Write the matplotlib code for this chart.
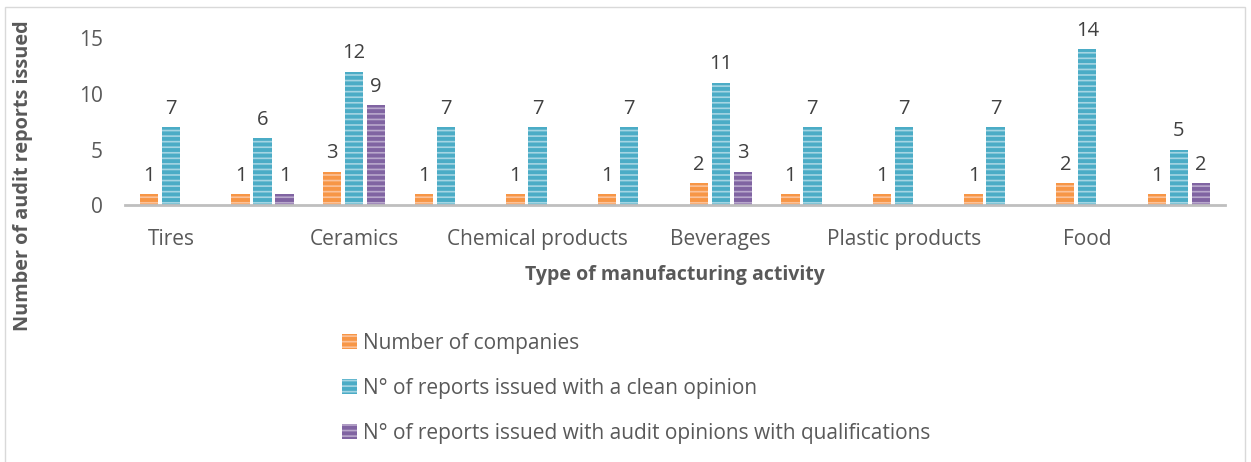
import matplotlib
matplotlib.use("Agg")
import matplotlib.pyplot as plt
from matplotlib.patches import Rectangle
import numpy as np

plt.rcParams["font.family"] = ["Open Sans", "DejaVu Sans"]
plt.rcParams["hatch.linewidth"] = 1.2

categories = ["Tires", "", "Ceramics", "", "Chemical products", "",
              "Beverages", "", "Plastic products", "", "Food", ""]
companies = [1, 1, 3, 1, 1, 1, 2, 1, 1, 1, 2, 1]
clean = [7, 6, 12, 7, 7, 7, 11, 7, 7, 7, 14, 5]
qualified = [0, 1, 9, 0, 0, 0, 3, 0, 0, 0, 0, 2]

series = [
    ("Number of companies", companies, "#F79646", "#FBC29A"),
    ("N° of reports issued with a clean opinion", clean, "#4BACC6", "#A5D5E3"),
    ("N° of reports issued with audit opinions with qualifications", qualified, "#8064A2", "#B9A8CC"),
]

fig = plt.figure(figsize=(12.51, 4.62), dpi=100)
ax = fig.add_axes([0.1, 0.556, 0.879, 0.361])

x = np.arange(len(categories))
w = 0.2
offs = [-0.24, 0, 0.24]
for (name, vals, col, light), off in zip(series, offs):
    bars = ax.bar(x + off, vals, w, color=col, edgecolor=light, hatch="---",
                  linewidth=0, label=name)
    for b, v in zip(bars, vals):
        if v == 0:
            continue
        ax.annotate(str(v), (b.get_x() + b.get_width() / 2, v),
                    xytext=(0, 6), textcoords="offset points",
                    ha="center", va="bottom", fontsize=14.5, color="#404040",
                    annotation_clip=False)

ax.set_xlim(-0.5, len(categories) - 0.5)
ax.set_ylim(0, 15)
ax.set_yticks([0, 5, 10, 15])
ax.set_xticks(x)
ax.set_xticklabels(categories)
for s in ["top", "right", "left"]:
    ax.spines[s].set_visible(False)
ax.spines["bottom"].set_color("#BFBFBF")
ax.spines["bottom"].set_linewidth(2)
ax.tick_params(axis="both", length=0, labelsize=15, colors="#595959")
ax.tick_params(axis="y", pad=16)
ax.tick_params(axis="x", pad=17)

ax.set_xlabel("Type of manufacturing activity", fontsize=14, fontweight="bold",
              color="#595959", labelpad=11)
fig.text(0.018, 0.62, "Number of audit reports issued", rotation=90,
         ha="center", va="center", fontsize=14.3, fontweight="bold", color="#595959")

leg = fig.legend(loc="upper left", bbox_to_anchor=(0.258, 0.32), frameon=False,
                 fontsize=15, labelspacing=1.15, handlelength=0.75, handleheight=0.75,
                 handletextpad=0.3, labelcolor="#595959")

fig.patches.append(Rectangle((0.004, -0.05), 0.991, 1.035, transform=fig.transFigure,
                             fill=False, edgecolor="#D9D9D9", linewidth=1))

fig.savefig("out.png", dpi=100)
